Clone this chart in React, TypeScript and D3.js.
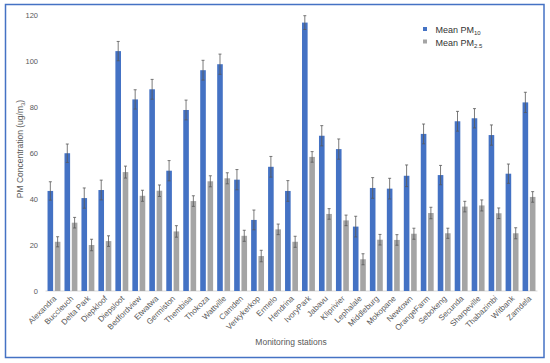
import React, { useEffect, useRef } from "react";
import * as d3 from "d3";

const stations = [
  "Alexandra", "Buccleuch", "Delta Park", "Diepkloof", "Diepsloot", "Bedfordview",
  "Etwatwa", "Germiston", "Thembisa", "Thokoza", "Wattville", "Camden",
  "Verkykerkop", "Ermelo", "Hendrina", "IvoryPark", "Jabavu", "Kliprivier",
  "Lephalale", "Middleburg", "Mokopane", "Newtown", "OrangeFarm", "Sebokeng",
  "Secunda", "Sharpeville", "Thabazimbi", "Witbank", "Zamdela",
];

const pm10 = [
  43.5, 59.9, 40.4, 43.9, 104.3, 83.3, 87.7, 52.3, 78.7, 96, 98.6, 48.4, 30.9, 54,
  43.5, 116.7, 67.5, 61.7, 28, 44.8, 44.5, 50.1, 68.3, 50.4, 73.8, 75.1, 67.8, 51, 82,
];
const pm10Err = [
  4, 4, 4.4, 4.3, 4.2, 4.2, 4.3, 4.4, 4.3, 4.3, 4.4, 4.4, 4.3, 4.5,
  4.5, 3, 4.4, 4.4, 4.5, 4.5, 4.5, 4.7, 4.3, 4.2, 4.3, 4.2, 4.4, 4.2, 4.4,
];
const pm25 = [
  21.4, 29.7, 20, 21.7, 51.7, 41.4, 43.6, 25.9, 39.1, 47.7, 49, 24, 15.2, 26.8,
  21.4, 58.3, 33.5, 30.7, 13.8, 22.3, 22.2, 24.9, 33.9, 25.1, 36.7, 37.2, 33.8, 25.1, 40.9,
];
const pm25Err = [
  2.2, 2.3, 2.5, 2.3, 2.6, 2.4, 2.5, 2.5, 2.3, 2.4, 2.4, 2.4, 2.5, 2.3,
  2.4, 2.3, 2.3, 2.3, 2.4, 2.3, 2.3, 2.4, 2.5, 2.2, 2.3, 2.4, 2.3, 2.4, 2.3,
];
const yTicks = [0, 20, 40, 60, 80, 100, 120];

const series = [
  { key: "pm10", values: pm10, errors: pm10Err, color: "#4472C4", label: "10" },
  { key: "pm25", values: pm25, errors: pm25Err, color: "#A5A5A5", label: "2.5" },
];

const App = () => {
  const ref = useRef<SVGSVGElement>(null);

  useEffect(() => {
    const svg = d3.select(ref.current);
    svg.selectAll("*").remove();

    const font = "'Liberation Sans', Arial, sans-serif";
    const textColor = "#595959";

    // outer frame
    svg.append("rect")
      .attr("x", 5.5).attr("y", 4.5)
      .attr("width", 538.5).attr("height", 353)
      .attr("fill", "white")
      .attr("stroke", "#4472C4")
      .attr("stroke-width", 1.5);

    const x0 = d3.scaleBand().domain(stations).range([45.5, 537.5]).padding(0);
    const x1 = d3.scaleBand()
      .domain(series.map((s) => s.key))
      .range([0, x0.bandwidth()])
      .paddingInner(0.233)
      .paddingOuter(0.278);
    const y = d3.scaleLinear().domain([0, 120]).range([291, 15]);

    // y tick labels (no axis line)
    svg.append("g")
      .selectAll("text")
      .data(yTicks)
      .join("text")
      .attr("x", 38)
      .attr("y", (d) => y(d) + 2.7)
      .attr("text-anchor", "end")
      .attr("font-family", font)
      .attr("font-size", 7.5)
      .attr("fill", textColor)
      .text((d) => d);

    // baseline
    svg.append("line")
      .attr("x1", x0.range()[0]).attr("x2", x0.range()[1])
      .attr("y1", y(0)).attr("y2", y(0))
      .attr("stroke", "#D9D9D9")
      .attr("stroke-width", 1);

    // bars + error bars
    series.forEach((s) => {
      const g = svg.append("g");
      g.selectAll("rect")
        .data(s.values)
        .join("rect")
        .attr("x", (_, i) => x0(stations[i])! + x1(s.key)!)
        .attr("y", (d) => y(d))
        .attr("width", x1.bandwidth())
        .attr("height", (d) => y(0) - y(d))
        .attr("fill", s.color);

      const eg = svg.append("g")
        .attr("stroke", "#595959")
        .attr("stroke-width", 0.8);
      s.values.forEach((v, i) => {
        const cx = x0(stations[i])! + x1(s.key)! + x1.bandwidth() / 2;
        const e = s.errors[i];
        eg.append("line").attr("x1", cx).attr("x2", cx).attr("y1", y(v - e)).attr("y2", y(v + e));
        eg.append("line").attr("x1", cx - 1.5).attr("x2", cx + 1.5).attr("y1", y(v + e)).attr("y2", y(v + e));
        eg.append("line").attr("x1", cx - 1.5).attr("x2", cx + 1.5).attr("y1", y(v - e)).attr("y2", y(v - e));
      });
    });

    // x labels
    svg.append("g")
      .selectAll("text")
      .data(stations)
      .join("text")
      .attr("transform", (d) => `translate(${x0(d)! + x0.bandwidth() / 2 + 3},${299}) rotate(-45)`)
      .attr("text-anchor", "end")
      .attr("font-family", font)
      .attr("font-size", 8)
      .attr("fill", textColor)
      .text((d) => d);

    // axis titles
    svg.append("text")
      .attr("x", 291).attr("y", 345)
      .attr("text-anchor", "middle")
      .attr("font-family", font)
      .attr("font-size", 8.5)
      .attr("fill", textColor)
      .text("Monitoring stations");

    const yt = svg.append("text")
      .attr("transform", "translate(23,149) rotate(-90)")
      .attr("text-anchor", "middle")
      .attr("font-family", font)
      .attr("font-size", 8.5)
      .attr("fill", textColor);
    yt.append("tspan").text("PM Concentration (ug/m");
    yt.append("tspan").attr("font-size", 6).attr("dy", 2).text("3");
    yt.append("tspan").attr("dy", -2).text(")");

    // legend
    const lg = svg.append("g").attr("transform", "translate(423,27)");
    series.forEach((s, i) => {
      const row = lg.append("g").attr("transform", `translate(0,${i * 12.5})`);
      row.append("rect")
        .attr("x", 0).attr("y", 0)
        .attr("width", 4).attr("height", 4)
        .attr("fill", s.color);
      const t = row.append("text")
        .attr("x", 12.5).attr("y", 6)
        .attr("font-family", font)
        .attr("font-size", 9)
        .attr("fill", "#333333");
      t.append("tspan").text("Mean PM");
      t.append("tspan").attr("font-size", 6).attr("dy", 2).text(s.label);
    });
  }, []);

  return <svg ref={ref} width={550} height={363} style={{ display: "block", position: "absolute", left: 0, top: 0 }} />;
};

export default App;
